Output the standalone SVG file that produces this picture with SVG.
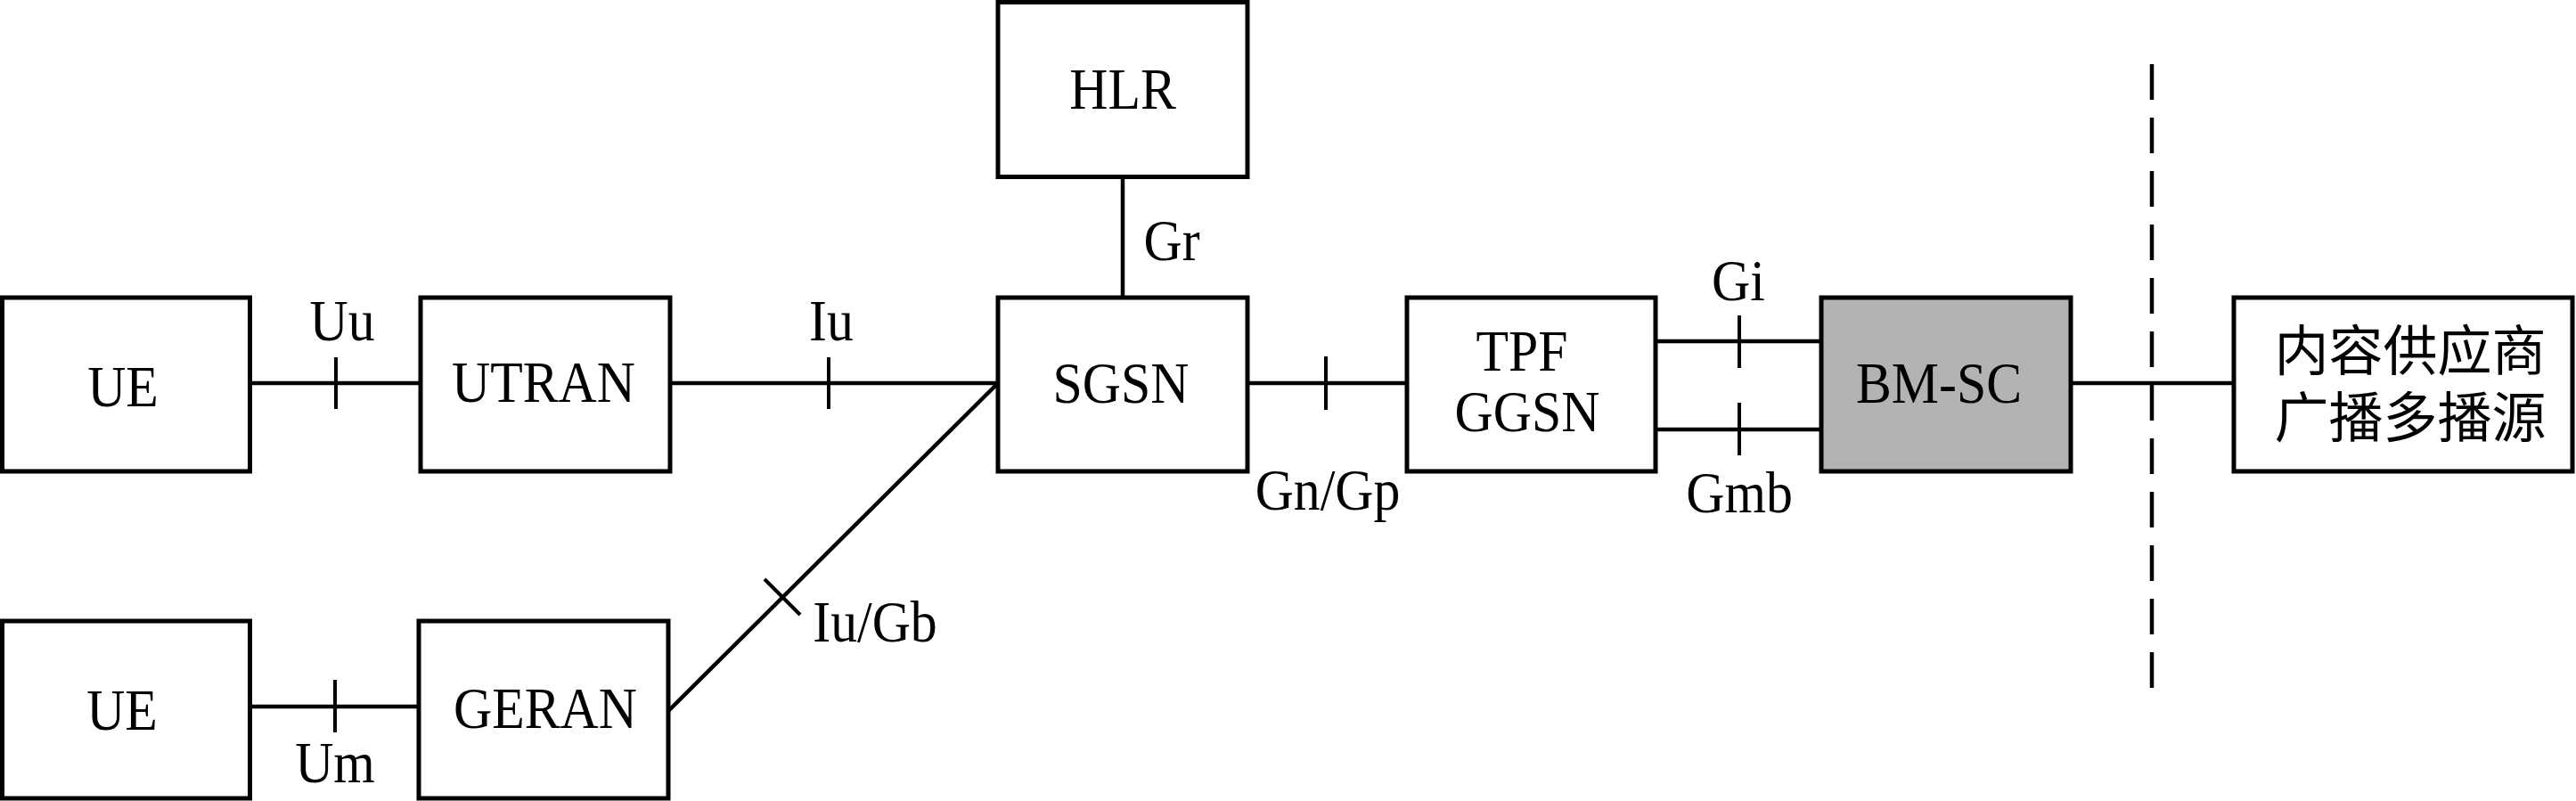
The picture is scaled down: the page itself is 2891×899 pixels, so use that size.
<svg xmlns="http://www.w3.org/2000/svg" width="2891" height="899" viewBox="0 0 2891 899">
<style>
.box{fill:#fff;stroke:#000;stroke-width:5}
.gray{fill:#b3b3b3;stroke:#000;stroke-width:5}
.ln{stroke:#000;stroke-width:4.5;fill:none}
.tk{stroke:#000;stroke-width:4;fill:none}
.t{font-family:"Liberation Serif","Times New Roman",serif;font-size:65px;fill:#000;text-anchor:middle}
.c{font-family:"Noto Sans CJK SC","Noto Sans CJK TC",sans-serif;font-size:61px;fill:#000;text-anchor:middle}
</style>
<rect width="2891" height="899" fill="#fff"/>
<g id="connectors">
<line class="ln" x1="280" y1="430" x2="472" y2="430"/>
<line class="tk" x1="377" y1="401" x2="377" y2="459"/>
<line class="ln" x1="752" y1="430" x2="1120" y2="430"/>
<line class="tk" x1="930" y1="401" x2="930" y2="459"/>
<line class="ln" x1="1260" y1="198" x2="1260" y2="334"/>
<line class="ln" x1="1400" y1="430" x2="1579" y2="430"/>
<line class="tk" x1="1488" y1="400" x2="1488" y2="460"/>
<line class="ln" x1="1858" y1="383" x2="2044" y2="383"/>
<line class="tk" x1="1952" y1="354" x2="1952" y2="413"/>
<line class="ln" x1="1858" y1="482" x2="2044" y2="482"/>
<line class="tk" x1="1952" y1="452" x2="1952" y2="511"/>
<line class="ln" x1="2324" y1="430" x2="2507" y2="430"/>
<line class="ln" x1="2415" y1="72" x2="2415" y2="788" stroke-dasharray="40 20"/>
<line class="ln" x1="281" y1="793" x2="470" y2="793"/>
<line class="tk" x1="376" y1="763" x2="376" y2="822"/>
<line class="ln" x1="750" y1="798" x2="1120" y2="430"/>
<line class="tk" x1="858" y1="650" x2="898" y2="690"/>
</g>
<g class="labels">
<text class="t" transform="translate(384 382) scale(0.92 1)">Uu</text>
<text class="t" transform="translate(933 382) scale(0.92 1)">Iu</text>
<text class="t" transform="translate(1315 292) scale(0.92 1)">Gr</text>
<text class="t" transform="translate(1490 572) scale(0.92 1)">Gn/Gp</text>
<text class="t" transform="translate(1951 337) scale(0.92 1)">Gi</text>
<text class="t" transform="translate(1952 575) scale(0.92 1)">Gmb</text>
<text class="t" transform="translate(376 878) scale(0.92 1)">Um</text>
<text class="t" transform="translate(982 720) scale(0.92 1)">Iu/Gb</text>
</g>
<g id="UE1"><rect class="box" x="2.5" y="334" width="278" height="195"/><text class="t" transform="translate(138 456) scale(0.92 1)">UE</text></g>
<g id="UTRAN"><rect class="box" x="472" y="334" width="280" height="195"/><text class="t" transform="translate(610 451) scale(0.92 1)">UTRAN</text></g>
<g id="HLR"><rect class="box" x="1120" y="2.5" width="280" height="196"/><text class="t" transform="translate(1260 122) scale(0.92 1)">HLR</text></g>
<g id="SGSN"><rect class="box" x="1120" y="334" width="280" height="195"/><text class="t" transform="translate(1258 452) scale(0.92 1)">SGSN</text></g>
<g id="GGSN"><rect class="box" x="1579" y="334" width="279" height="195"/><text class="t" transform="translate(1708 416) scale(0.92 1)">TPF</text><text class="t" transform="translate(1714 484) scale(0.92 1)">GGSN</text></g>
<g id="BMSC"><rect class="gray" x="2044" y="334" width="280" height="195"/><text class="t" transform="translate(2176 452) scale(0.92 1)">BM-SC</text></g>
<g id="CP"><rect class="box" x="2507" y="334" width="380" height="195"/><text class="c" x="2705" y="416">内容供应商</text><text class="c" x="2705" y="491">广播多播源</text></g>
<g id="UE2"><rect class="box" x="2.5" y="697" width="278" height="199"/><text class="t" transform="translate(137 819) scale(0.92 1)">UE</text></g>
<g id="GERAN"><rect class="box" x="470" y="697" width="280" height="199"/><text class="t" transform="translate(612 817) scale(0.92 1)">GERAN</text></g>
</svg>
